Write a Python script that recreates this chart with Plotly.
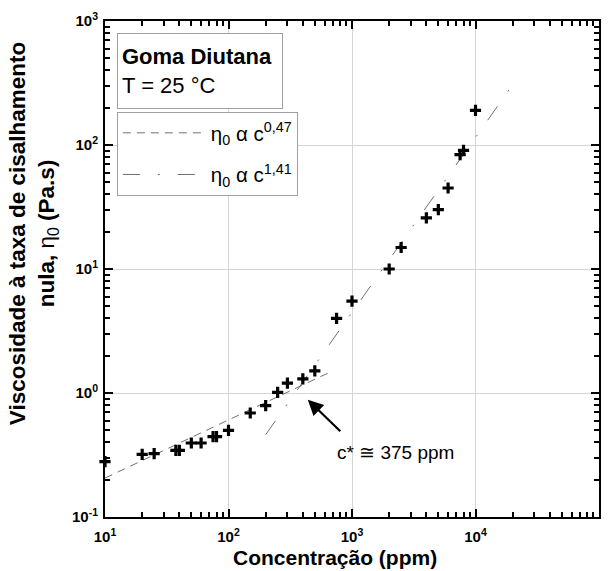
import plotly.graph_objects as go

# Zero-shear viscosity of diutan gum solutions at 25 °C
conc_ppm = [10, 20, 25, 37.5, 40, 50, 60, 75, 80, 100, 150, 200, 250, 300,
            400, 500, 750, 1000, 2000, 2500, 4000, 5000, 6000, 7500, 8000, 10000]
eta0_pas = [0.28, 0.32, 0.325, 0.345, 0.345, 0.395, 0.395, 0.445, 0.445, 0.50,
            0.69, 0.79, 1.01, 1.20, 1.30, 1.51, 4.0, 5.5, 10.0, 14.9, 25.8,
            30.1, 45.0, 83.5, 90.4, 190.0]

# Power-law fits (end points of each straight segment on log-log axes)
dilute_c = [10, 700]
dilute_eta = [0.206, 1.51]
semidilute_c = [200, 20000]
semidilute_eta = [0.461, 306]

x_ticks = [1e1, 1e2, 1e3, 1e4, 1e5]
x_ticktext = ["<b>10<sup>1</sup></b>", "<b>10<sup>2</sup></b>", "<b>10<sup>3</sup></b>",
              "<b>10<sup>4</sup></b>", "<b>10<sup>5</sup></b>"]
y_ticks = [1e-1, 1e0, 1e1, 1e2, 1e3]
y_ticktext = ["<b>10<sup>-1</sup></b>", "<b>10<sup>0</sup></b>", "<b>10<sup>1</sup></b>",
              "<b>10<sup>2</sup></b>", "<b>10<sup>3</sup></b>"]

FONT = "Liberation Sans, Arial, sans-serif"


def minor_vals(first_exp, last_exp):
    vals = []
    for e in range(first_exp, last_exp):
        for m in range(2, 10):
            vals.append(m * 10 ** e)
    return vals


fig = go.Figure()

fig.add_trace(go.Scatter(
    x=dilute_c, y=dilute_eta, mode="lines",
    line=dict(color="#707070", width=1, dash="8px,6px"),
    name="η<sub>0</sub> α c<sup>0,47</sup>", legendgroup="a",
))
fig.add_trace(go.Scatter(
    x=semidilute_c, y=semidilute_eta, mode="lines",
    line=dict(color="#707070", width=1, dash="17px,18px,2px,18px"),
    name="η<sub>0</sub> α c<sup>1,41</sup>", legendgroup="b",
))
fig.add_trace(go.Scatter(
    x=conc_ppm, y=eta0_pas, mode="markers",
    marker=dict(symbol="cross-thin", size=8, color="black",
                line=dict(color="black", width=3.2)),
    showlegend=False, cliponaxis=False,
))

axis_common = dict(
    type="log",
    showline=True, linewidth=2, linecolor="black", mirror="ticks",
    ticks="inside", ticklen=8, tickwidth=2, tickcolor="black",
    showgrid=True, gridcolor="#d4d4d4", gridwidth=1, zeroline=False,
    tickfont=dict(family=FONT, size=15, color="black"),
)

fig.update_xaxes(
    **axis_common, range=[1, 5],
    tickmode="array", tickvals=x_ticks, ticktext=x_ticktext,
    ticklabelstandoff=5,
    minor=dict(tickmode="array", tickvals=minor_vals(1, 5), ticks="inside",
               ticklen=5, tickwidth=2, tickcolor="black", showgrid=False),
)
fig.update_yaxes(
    **axis_common, range=[-1, 3],
    tickmode="array", tickvals=y_ticks, ticktext=y_ticktext,
    ticklabelstandoff=2,
    minor=dict(tickmode="array", tickvals=minor_vals(-1, 3), ticks="inside",
               ticklen=5, tickwidth=2, tickcolor="black", showgrid=False),
)

# Axis titles
fig.add_annotation(
    xref="paper", yref="paper", x=0.466, y=-0.081,
    xanchor="center", yanchor="middle", showarrow=False,
    text="<b>Concentração (ppm)</b>",
    font=dict(family=FONT, size=21, color="black"),
)
fig.add_annotation(
    xref="paper", yref="paper", x=-0.145, y=0.573,
    xanchor="center", yanchor="middle", showarrow=False, textangle=-90,
    text="<b>Viscosidade à taxa de cisalhamento<br>nula, </b>η<sub>0</sub><b> (Pa.s)</b>",
    font=dict(family=FONT, size=22.5, color="black"),
)

# Sample description box
fig.add_annotation(
    xref="paper", yref="paper", x=0.024, y=0.976,
    xanchor="left", yanchor="top", align="left",
    text="<b>Goma Diutana</b><br>T = 25 °C",
    showarrow=False, bordercolor="#a0a0a0", borderwidth=1, borderpad=4,
    width=156, height=66, bgcolor="white",
    font=dict(family=FONT, size=22, color="black"),
)

# Critical overlap concentration
fig.add_annotation(
    x=2.642, y=-0.054, xref="x", yref="y",
    ax=34, ay=33, text="", showarrow=True,
    arrowhead=2, arrowsize=1.4, arrowwidth=2.2, arrowcolor="black",
)
fig.add_annotation(
    xref="paper", yref="paper", x=0.466, y=0.13,
    xanchor="left", yanchor="middle", showarrow=False,
    text="c* ≅ 375 ppm",
    font=dict(family=FONT, size=19, color="black"),
)

fig.update_layout(
    width=610, height=571,
    margin=dict(l=105, r=9, t=21, b=54),
    paper_bgcolor="white", plot_bgcolor="white",
    font=dict(family=FONT, color="black"),
    legend=dict(
        x=0.024, y=0.8165, xanchor="left", yanchor="top",
        bordercolor="#a0a0a0", borderwidth=1, bgcolor="white",
        itemwidth=83, tracegroupgap=12,
        font=dict(family=FONT, size=20.5, color="black"),
    ),
)

fig.write_html("out.html")
